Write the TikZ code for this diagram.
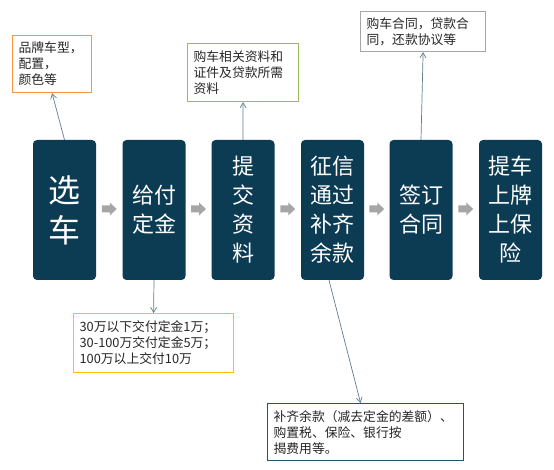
\documentclass[tikz,border=0pt]{standalone}
\usepackage{fontspec}
\setmainfont{Noto Sans CJK SC}
\usetikzlibrary{arrows.meta,calc}
\definecolor{stagefill}{HTML}{0C3B54}
\definecolor{arrowgray}{HTML}{A6A6A6}
\definecolor{connc}{HTML}{5D7E90}
\definecolor{corange}{HTML}{F79646}
\definecolor{cgreen}{HTML}{9BBB59}
\definecolor{cgray}{HTML}{A6A6A6}
\definecolor{cgold}{HTML}{FFC000}
\definecolor{cteal}{HTML}{215868}
\tikzset{
  stage/.style={rectangle, rounded corners=4pt, fill=stagefill, text=white,
    minimum width=63pt, minimum height=140pt, align=center, inner sep=0pt},
  stagetxt/.style={font=\fontsize{22}{29}\selectfont},
  callout/.style={rectangle, draw=#1, line width=1.2pt, fill=white, align=left,
    inner xsep=6pt, inner ysep=2pt, font=\fontsize{12.8}{16}\selectfont, text=black!85},
  conn/.style={draw=connc, line width=0.7pt, -{Straight Barb[length=5pt,width=6pt]}},
}
\newcommand{\blockarrow}[2]{%
  \fill[arrowgray] ($(#1.east)!0.5!(#2.west)+(-7.5,-1)+(0,-3.5)$) -- ++(8,0) -- ++(0,-3) -- ++(7,6.5) -- ++(-7,6.5) -- ++(0,-3) -- ++(-8,0) -- cycle;}
\begin{document}
\begin{tikzpicture}[x=1pt,y=-1pt]
\useasboundingbox[fill=white] (0,0) rectangle (554,470);

\node[stage, font=\fontsize{32}{40}\selectfont] (b1) at (64.5,210) {选\\车};
\node[stage, stagetxt] (b2) at (154,210) {给付\\定金};
\node[stage, stagetxt] (b3) at (243,210) {提\\交\\资\\料};
\node[stage, stagetxt] (b4) at (332.5,210) {征信\\通过\\补齐\\余款};
\node[stage, stagetxt] (b5) at (421,210) {签订\\合同};
\node[stage, stagetxt] (b6) at (510.5,210) {提车\\上牌\\上保\\险};

\blockarrow{b1}{b2}
\blockarrow{b2}{b3}
\blockarrow{b3}{b4}
\blockarrow{b4}{b5}
\blockarrow{b5}{b6}

\node[callout=corange, text width=67pt, minimum height=57pt, anchor=north west] (c1) at (12,35)
  {品牌车型，\\配置，\\颜色等};
\node[callout=cgreen, text width=99pt, minimum height=58pt, anchor=north west] (c2) at (187,43)
  {购车相关资料和\\证件及贷款所需\\资料};
\node[callout=cgray, text width=113pt, minimum height=40pt, anchor=north west] (c3) at (360,11)
  {购车合同，贷款合\\同，还款协议等};
\node[callout=cgold, text width=148pt, minimum height=59pt, anchor=north west] (c4) at (73,313)
  {30万以下交付定金1万；\\30-100万交付定金5万；\\100万以上交付10万};
\node[callout=cteal, text width=184pt, minimum height=57pt, anchor=north west] (c5) at (267,403)
  {补齐余款（减去定金的差额）、\\购置税、保险、银行按\\揭费用等。};

\draw[conn] (b1.north) -- (c1.south);
\draw[conn] (b3.north) -- (c2.south);
\draw[conn] (b5.north) -- (c3.south);
\draw[conn] (b2.south) -- (c4.north);
\draw[conn] ([xshift=-3.5pt]b4.south) -- ([xshift=-5pt]c5.north);
\end{tikzpicture}
\end{document}
